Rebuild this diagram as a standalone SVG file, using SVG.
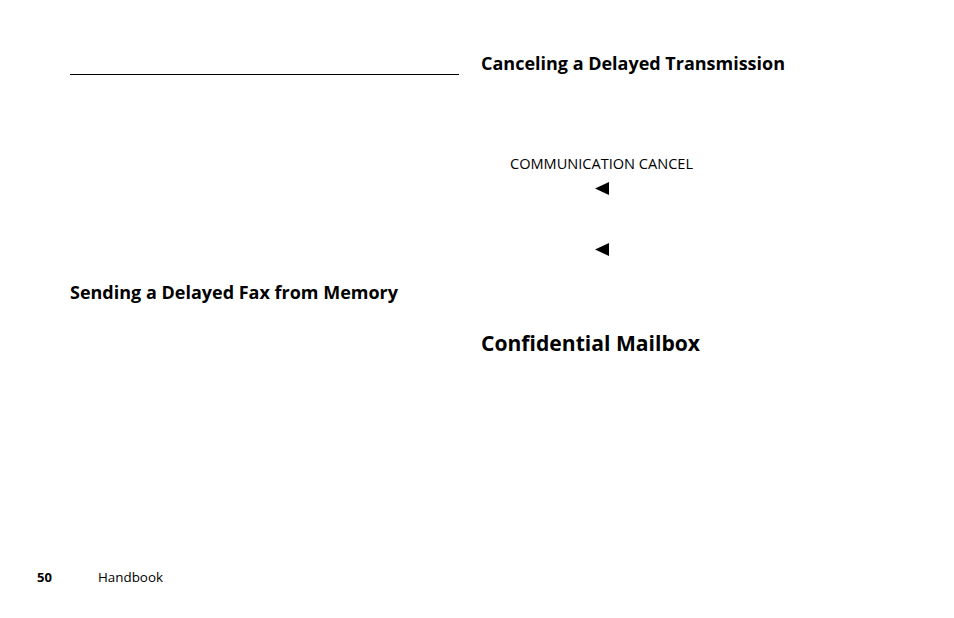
<svg xmlns="http://www.w3.org/2000/svg" width="954" height="618" viewBox="0 0 954 618">
<style>
.h{font-family:"Open Sans","Liberation Sans",sans-serif;font-weight:bold;fill:#000}
.t{font-family:"Open Sans","Liberation Sans",sans-serif;fill:#000}
</style>
<rect width="954" height="618" fill="#fff"/>
<line x1="70" y1="74.5" x2="459" y2="74.5" stroke="#000" stroke-width="1"/>
<text class="h" x="481" y="70" font-size="18" textLength="304" lengthAdjust="spacingAndGlyphs">Canceling a Delayed Transmission</text>
<text class="t" x="510" y="169" font-size="14" textLength="183" lengthAdjust="spacingAndGlyphs">COMMUNICATION CANCEL</text>
<polygon points="609,182 609,195 595,188.5" fill="#000"/>
<polygon points="609,243 609,256 595,249.5" fill="#000"/>
<text class="h" x="70" y="299" font-size="17" textLength="328" lengthAdjust="spacingAndGlyphs">Sending a Delayed Fax from Memory</text>
<text class="h" x="481" y="351" font-size="21" textLength="219" lengthAdjust="spacingAndGlyphs">Confidential Mailbox</text>
<text class="h" x="37" y="582" font-size="13">50</text>
<text class="t" x="98" y="582" font-size="13" textLength="65" lengthAdjust="spacingAndGlyphs">Handbook</text>
</svg>
